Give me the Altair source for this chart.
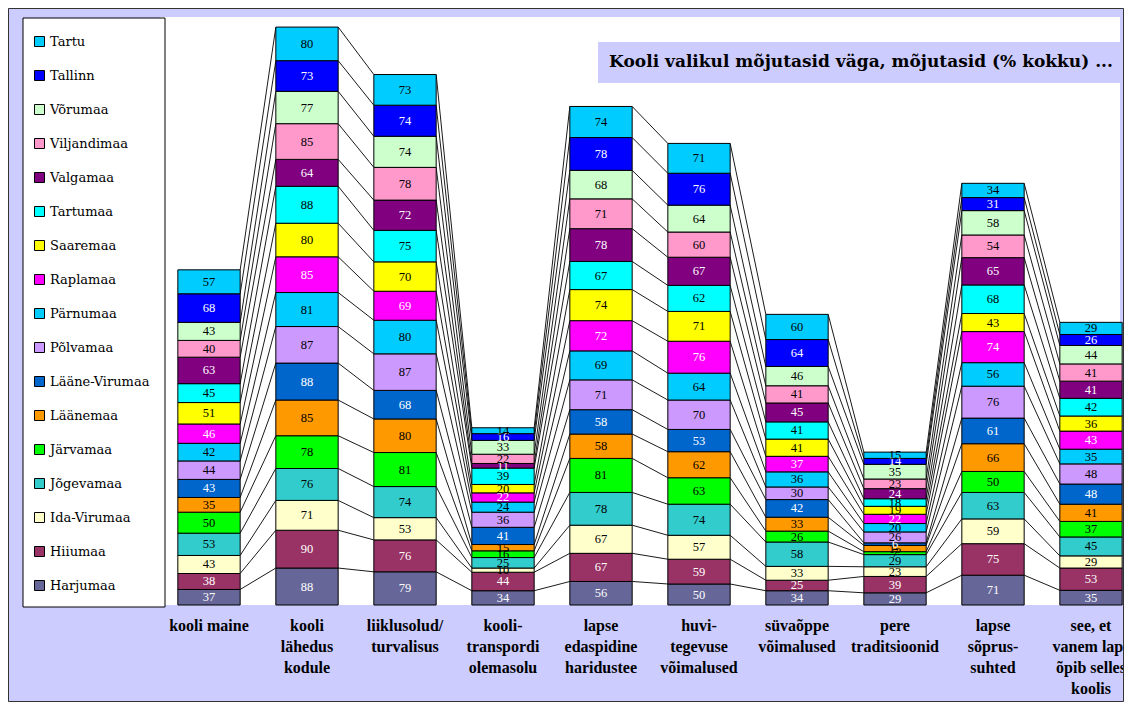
import altair as alt
import pandas as pd

categories = [
    "kooli maine",
    "kooli\nlähedus\nkodule",
    "liiklusolud/\nturvalisus",
    "kooli-\ntranspordi\nolemasolu",
    "lapse\nedaspidine\nharidustee",
    "huvi-\ntegevuse\nvõimalused",
    "süvaõppe\nvõimalused",
    "pere\ntraditsioonid",
    "lapse\nsõprus-\nsuhted",
    "see, et\nvanem laps\nõpib selles\nkoolis",
]

# stacking order, bottom to top
series = ["Harjumaa", "Hiiumaa", "Ida-Virumaa", "Jõgevamaa", "Järvamaa", "Läänemaa",
          "Lääne-Virumaa", "Põlvamaa", "Pärnumaa", "Raplamaa", "Saaremaa", "Tartumaa",
          "Valgamaa", "Viljandimaa", "Võrumaa", "Tallinn", "Tartu"]

colors = ["#666699", "#993366", "#FFFFCC", "#33CCCC", "#00FF00", "#FF9900",
          "#0066CC", "#CC99FF", "#00CCFF", "#FF00FF", "#FFFF00", "#00FFFF",
          "#800080", "#FF99CC", "#CCFFCC", "#0000FF", "#00CCFF"]

label_colors = ["white", "white", "black", "black", "black", "black",
                "white", "black", "black", "white", "black", "black",
                "white", "black", "black", "white", "black"]

harjumaa = [37, 88, 79, 34, 56, 50, 34, 29, 71, 35]
hiiumaa = [38, 90, 76, 44, 67, 59, 25, 39, 75, 53]
ida_virumaa = [43, 71, 53, 10, 67, 57, 33, 23, 59, 29]
jogevamaa = [53, 76, 74, 25, 78, 74, 58, 29, 63, 45]
jarvamaa = [50, 78, 81, 16, 81, 63, 26, 7, 50, 37]
laanemaa = [35, 85, 80, 15, 58, 62, 33, 15, 66, 41]
laane_virumaa = [43, 88, 68, 41, 58, 53, 42, 6, 61, 48]
polvamaa = [44, 87, 87, 36, 71, 70, 30, 26, 76, 48]
parnumaa = [42, 81, 80, 24, 69, 64, 36, 20, 56, 35]
raplamaa = [46, 85, 69, 22, 72, 76, 37, 22, 74, 43]
saaremaa = [51, 80, 70, 20, 74, 71, 41, 19, 43, 36]
tartumaa = [45, 88, 75, 39, 67, 62, 41, 18, 68, 42]
valgamaa = [63, 64, 72, 11, 78, 67, 45, 24, 65, 41]
viljandimaa = [40, 85, 78, 22, 71, 60, 41, 23, 54, 41]
vorumaa = [43, 77, 74, 33, 68, 64, 46, 35, 58, 44]
tallinn = [68, 73, 74, 16, 78, 76, 64, 14, 31, 26]
tartu = [57, 80, 73, 14, 74, 71, 60, 15, 34, 29]

values = [harjumaa, hiiumaa, ida_virumaa, jogevamaa, jarvamaa, laanemaa, laane_virumaa,
          polvamaa, parnumaa, raplamaa, saaremaa, tartumaa, valgamaa, viljandimaa,
          vorumaa, tallinn, tartu]

title_text = "Kooli valikul mõjutasid väga, mõjutasid (% kokku) ..."

HALF = 0.318  # half bar width in band units
BAND_PX = 98
W, H = 960, 588
FONT = "Liberation Serif"
WIDE_FONT = "DejaVu Serif"

# segments
rows = []
cums = []
for ci in range(len(categories)):
    c = 0
    col = []
    for si, s in enumerate(series):
        v = values[si][ci]
        rows.append(dict(series=s, value=v, x0=ci + 0.5 - HALF, x1=ci + 0.5 + HALF,
                         y0=c, y1=c + v, mid=c + v / 2, tcol=label_colors[si]))
        c += v
        col.append(c)
    cums.append(col)
seg = pd.DataFrame(rows)

lines = []
for ci in range(len(categories) - 1):
    for k in range(len(series)):
        lines.append(dict(xa=ci + 0.5 + HALF, xb=ci + 1.5 - HALF,
                          ya=cums[ci][k], yb=cums[ci + 1][k]))
lines = pd.DataFrame(lines)

cats = pd.DataFrame(dict(pos=[i + 0.5 for i in range(len(categories))], label=categories))

xscale = alt.Scale(domain=[0, W / BAND_PX], nice=False, zero=False)
yscale = alt.Scale(domain=[0, 1400], nice=False)

one = pd.DataFrame({"a": [0]})

legend_box = alt.Chart(one).mark_rect(fill="white", stroke="black", strokeWidth=1).encode(
    x=alt.value(-137), x2=alt.value(5), y=alt.value(1), y2=alt.value(590))

bars = alt.Chart(seg).mark_rect(stroke="black", strokeWidth=1).encode(
    x=alt.X("x0:Q", scale=xscale, title=None,
            axis=alt.Axis(values=list(range(11)), labels=False, ticks=True, tickSize=6,
                          tickColor="black", domainColor="black", grid=False, title=None)),
    x2="x1:Q",
    y=alt.Y("y0:Q", scale=yscale, title=None,
            axis=alt.Axis(values=[0, 1400], labelColor="#aaaaaa", labelFont=FONT,
                          labelFontSize=14, tickSize=5, tickColor="black",
                          domainColor="black", grid=False, title=None)),
    y2="y1:Q",
    color=alt.Color("series:N",
                    scale=alt.Scale(domain=series[::-1], range=colors[::-1]),
                    legend=alt.Legend(orient="none", legendX=-139, legendY=6, title=None,
                                      symbolType="square", symbolSize=100,
                                      symbolStrokeColor="black", symbolStrokeWidth=1,
                                      symbolOpacity=1,
                                      labelFont=WIDE_FONT, labelFontSize=13,
                                      labelColor="black",
                                      rowPadding=19, padding=12, labelOffset=4)),
)

seg_text = alt.Chart(seg).mark_text(font=FONT, fontSize=12.5, baseline="middle").encode(
    x=alt.X("mid_x:Q", scale=xscale, axis=None),
    y=alt.Y("mid:Q", scale=yscale, axis=None),
    text="value:Q",
    color=alt.Color("tcol:N", scale=None),
).transform_calculate(mid_x="(datum.x0 + datum.x1) / 2")

series_lines = alt.Chart(lines).mark_rule(color="black", strokeWidth=0.9).encode(
    x=alt.X("xa:Q", scale=xscale, axis=None), x2="xb:Q",
    y=alt.Y("ya:Q", scale=yscale, axis=None), y2="yb:Q")

cat_text = alt.Chart(cats).mark_text(font=FONT, fontSize=16, fontWeight="bold",
                                     baseline="top", lineBreak="\n", lineHeight=21).encode(
    x=alt.X("pos:Q", scale=xscale, axis=None),
    y=alt.value(H + 13),
    text="label:N")

title_box = alt.Chart(one).mark_rect(fill="#CCCCFF").encode(
    x=alt.value(438), x2=alt.value(970), y=alt.value(25), y2=alt.value(66))
title_mark = alt.Chart(one).mark_text(font=WIDE_FONT, fontSize=17, fontWeight="bold",
                                      baseline="middle", align="center").encode(
    x=alt.value(701), y=alt.value(45), text=alt.value(title_text))

border = alt.Chart(one).mark_rect(fillOpacity=0, stroke="#333333", strokeWidth=1).encode(
    x=alt.value(-151.5), x2=alt.value(963.5), y=alt.value(-8.5), y2=alt.value(684.5))

chart = alt.layer(series_lines, bars, seg_text, legend_box, title_box, title_mark,
                  cat_text, border).properties(
    width=W, height=H,
    autosize=alt.AutoSizeParams(type="none"),
    padding={"left": 152, "top": 9, "right": 4, "bottom": 97},
    background="#CCCCFF",
).configure_view(fill="white", strokeWidth=0)

chart.save("out.html", embed_options={"renderer": "svg", "actions": False})
